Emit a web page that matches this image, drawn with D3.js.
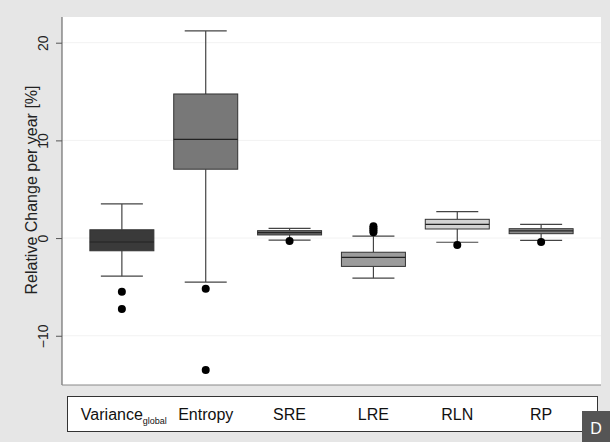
<!DOCTYPE html>
<html><head><meta charset="utf-8">
<script src="https://cdn.jsdelivr.net/npm/d3@7"></script>
<style>html,body{margin:0;padding:0;background:#e6e6e6;}svg{display:block;}</style>
</head><body>
<script>
const categories = ["Variance", "Entropy", "SRE", "LRE", "RLN", "RP"];
const subscripts = ["global", "", "", "", "", ""];
const whiskerHigh = [3.5, 21.2, 1.0, 0.2, 2.7, 1.4];
const q3 = [0.85, 14.75, 0.76, -1.45, 1.92, 0.96];
const median = [-0.4, 10.1, 0.55, -1.97, 1.41, 0.73];
const q1 = [-1.3, 7.05, 0.32, -2.9, 0.93, 0.45];
const whiskerLow = [-3.9, -4.5, -0.2, -4.1, -0.43, -0.23];
const outliers = [[-5.5, -7.25], [-5.2, -13.5], [-0.3], [0.6, 0.8, 1.0, 1.2], [-0.7], [-0.4]];
const boxColors = ["#3a3a3a", "#787878", "#6c6c6c", "#9c9c9c", "#d2d2d2", "#8a8a8a"];
const yTicks = [-10, 0, 10, 20];
const yTitle = "Relative Change per year [%]";

const W = 610, H = 442;
const plot = {left: 62, right: 601, top: 17, bottom: 385};
const FONT = "Liberation Sans, Arial, sans-serif";
const svg = d3.select("body").append("svg").attr("width", W).attr("height", H);
svg.append("rect").attr("width", W).attr("height", H).attr("fill", "#e6e6e6");
svg.append("rect").attr("x", plot.left).attr("y", plot.top)
  .attr("width", plot.right - plot.left).attr("height", plot.bottom - plot.top).attr("fill", "#ffffff");

const y = d3.scaleLinear().domain([-15.04, 22.63]).range([plot.bottom, plot.top]);
const x = d3.scalePoint().domain(categories).range([plot.left, plot.right]).padding(0.714);

// faint grid
svg.append("g").selectAll("line").data(yTicks).join("line")
  .attr("x1", plot.left).attr("x2", plot.right)
  .attr("y1", d => y(d)).attr("y2", d => y(d))
  .attr("stroke", "#f2f2f2").attr("stroke-width", 1);

// axis
const yAxis = d3.axisLeft(y).tickValues(yTicks).tickSize(6).tickPadding(4).tickFormat(d3.format("d"));
const gy = svg.append("g").attr("transform", `translate(${plot.left},0)`).call(yAxis);
gy.select(".domain").attr("stroke", "#555").attr("d", `M0,${plot.top}V${plot.bottom}`);
gy.selectAll(".tick line").attr("stroke", "#555");
gy.selectAll(".tick text")
  .attr("font-family", FONT).attr("font-size", 14).attr("fill", "#222")
  .attr("transform", "rotate(-90)").attr("x", 0).attr("y", -14).attr("dy", "0").attr("text-anchor", "middle");

svg.append("line").attr("x1", plot.left).attr("x2", plot.right).attr("y1", plot.bottom).attr("y2", plot.bottom)
  .attr("stroke", "#888").attr("stroke-width", 1);

svg.append("text").attr("transform", `translate(37,190) rotate(-90)`)
  .attr("text-anchor", "middle").attr("font-family", FONT)
  .attr("font-size", 16).attr("fill", "#222").text(yTitle);

// boxes
const boxW = 64, capW = 42;
const g = svg.append("g");
categories.forEach((c, i) => {
  const cx = x(c);
  const gg = g.append("g");
  gg.append("line").attr("x1", cx).attr("x2", cx).attr("y1", y(whiskerHigh[i])).attr("y2", y(q3[i])).attr("stroke", "#444").attr("stroke-width", 1.2);
  gg.append("line").attr("x1", cx).attr("x2", cx).attr("y1", y(q1[i])).attr("y2", y(whiskerLow[i])).attr("stroke", "#444").attr("stroke-width", 1.2);
  gg.append("line").attr("x1", cx - capW / 2).attr("x2", cx + capW / 2).attr("y1", y(whiskerHigh[i])).attr("y2", y(whiskerHigh[i])).attr("stroke", "#444").attr("stroke-width", 1.2);
  gg.append("line").attr("x1", cx - capW / 2).attr("x2", cx + capW / 2).attr("y1", y(whiskerLow[i])).attr("y2", y(whiskerLow[i])).attr("stroke", "#444").attr("stroke-width", 1.2);
  gg.append("rect").attr("x", cx - boxW / 2).attr("width", boxW)
    .attr("y", y(q3[i])).attr("height", y(q1[i]) - y(q3[i]))
    .attr("fill", boxColors[i]).attr("stroke", "#333").attr("stroke-width", 1);
  gg.append("line").attr("x1", cx - boxW / 2).attr("x2", cx + boxW / 2).attr("y1", y(median[i])).attr("y2", y(median[i]))
    .attr("stroke", "#222").attr("stroke-width", 1.2);
  gg.selectAll("circle").data(outliers[i]).join("circle")
    .attr("cx", cx).attr("cy", d => y(d)).attr("r", 4).attr("fill", "#000");
});

// legend box
svg.append("rect").attr("x", 67.5).attr("y", 396.5).attr("width", 530).attr("height", 35)
  .attr("fill", "#fff").attr("stroke", "#333").attr("stroke-width", 1);
categories.forEach((c, i) => {
  const t = svg.append("text").attr("x", x(c) + (subscripts[i] ? 2 : 0)).attr("y", 420).attr("text-anchor", "middle")
    .attr("font-family", FONT).attr("font-size", 16).attr("fill", "#111");
  t.append("tspan").text(c);
  if (subscripts[i]) t.append("tspan").attr("font-size", 9).attr("dy", 4).text(subscripts[i]);
});

// panel badge
svg.append("rect").attr("x", 582).attr("y", 411).attr("width", 28).attr("height", 31).attr("fill", "#555");
svg.append("text").attr("x", 596).attr("y", 434).attr("text-anchor", "middle")
  .attr("font-family", FONT).attr("font-size", 16).attr("fill", "#fff").text("D");
</script>
</body></html>
